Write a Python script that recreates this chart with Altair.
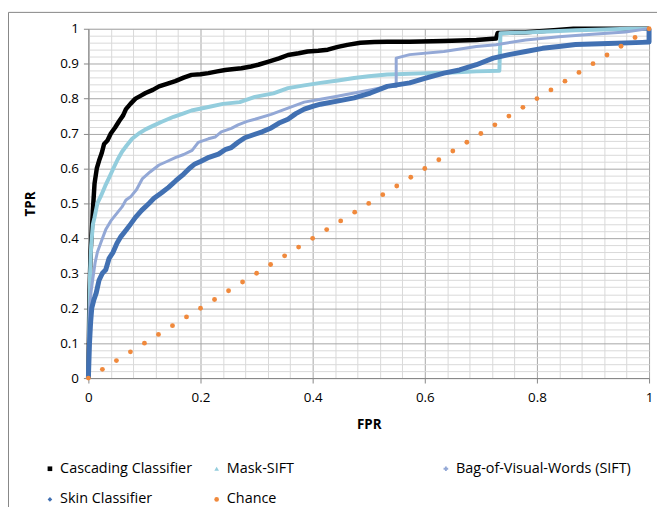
import altair as alt
import pandas as pd

series_names = ["Cascading Classifier", "Mask-SIFT", "Bag-of-Visual-Words (SIFT)", "Skin Classifier", "Chance"]
series_colors = ["#000000", "#93CDDD", "#93A8D6", "#4170B2", "#F0893C"]
series_shapes = ["square", "triangle-up", "cross", "diamond", "circle"]
line_widths = [4.5, 4, 3, 5]

casc_fpr = [0, 0.001, 0.002, 0.004, 0.006, 0.008, 0.011, 0.015, 0.019, 0.024, 0.028, 0.034, 0.04, 0.048, 0.055,
            0.062, 0.067, 0.075, 0.084, 0.093, 0.102, 0.115, 0.126, 0.14, 0.155, 0.17, 0.184, 0.2, 0.214, 0.23,
            0.244, 0.26, 0.273, 0.29, 0.303, 0.32, 0.34, 0.356, 0.375, 0.391, 0.41, 0.427, 0.445, 0.462, 0.485,
            0.51, 0.533, 0.573, 0.634, 0.692, 0.727, 0.73, 0.78, 0.83, 0.865, 1.0]
casc_tpr = [0, 0.12, 0.25, 0.36, 0.42, 0.48, 0.557, 0.6, 0.622, 0.645, 0.67, 0.68, 0.70, 0.718, 0.736,
            0.752, 0.77, 0.785, 0.80, 0.808, 0.816, 0.825, 0.835, 0.842, 0.85, 0.86, 0.868, 0.87, 0.873, 0.878,
            0.882, 0.885, 0.887, 0.892, 0.897, 0.905, 0.915, 0.925, 0.93, 0.935, 0.937, 0.94, 0.948, 0.954, 0.96,
            0.962, 0.963, 0.963, 0.965, 0.968, 0.972, 0.988, 0.99, 0.996, 1.0, 1.0]

mask_fpr = [0, 0.001, 0.002, 0.003, 0.005, 0.008, 0.011, 0.016, 0.022, 0.03, 0.036, 0.046, 0.052, 0.06, 0.068,
            0.078, 0.09, 0.102, 0.115, 0.13, 0.152, 0.17, 0.184, 0.214, 0.24, 0.27, 0.297, 0.33, 0.356, 0.385,
            0.414, 0.445, 0.474, 0.5, 0.533, 0.55, 0.604, 0.65, 0.692, 0.733, 0.735, 0.78, 0.83, 0.869, 0.92,
            0.963, 1.0]
mask_tpr = [0, 0.08, 0.2, 0.3, 0.38, 0.44, 0.46, 0.5, 0.52, 0.55, 0.57, 0.605, 0.625, 0.648, 0.665,
            0.685, 0.7, 0.712, 0.722, 0.733, 0.748, 0.758, 0.766, 0.776, 0.785, 0.79, 0.805, 0.815, 0.83, 0.838,
            0.845, 0.852, 0.859, 0.864, 0.869, 0.87, 0.873, 0.875, 0.878, 0.88, 0.987, 0.989, 0.993, 0.996, 0.998,
            1.0, 1.0]

bovw_fpr = [0, 0.001, 0.002, 0.005, 0.008, 0.012, 0.016, 0.024, 0.031, 0.04, 0.05, 0.06, 0.067, 0.076, 0.086,
            0.096, 0.11, 0.126, 0.14, 0.155, 0.17, 0.185, 0.196, 0.214, 0.226, 0.237, 0.255, 0.267, 0.283, 0.297,
            0.326, 0.356, 0.385, 0.414, 0.444, 0.474, 0.503, 0.533, 0.549, 0.549, 0.573, 0.634, 0.692, 0.727,
            0.78, 0.839, 0.899, 0.958, 0.993, 1.0]
bovw_tpr = [0, 0.1, 0.2, 0.25, 0.285, 0.33, 0.36, 0.395, 0.425, 0.45, 0.47, 0.49, 0.51, 0.52, 0.54,
            0.57, 0.59, 0.61, 0.62, 0.631, 0.64, 0.652, 0.675, 0.685, 0.69, 0.705, 0.715, 0.725, 0.735, 0.741,
            0.755, 0.773, 0.79, 0.798, 0.807, 0.816, 0.825, 0.835, 0.835, 0.916, 0.926, 0.935, 0.949, 0.954,
            0.968, 0.977, 0.984, 0.991, 0.999, 1.0]

skin_fpr = [0, 0.001, 0.002, 0.004, 0.006, 0.01, 0.014, 0.019, 0.025, 0.031, 0.037, 0.044, 0.051, 0.058, 0.067,
            0.075, 0.084, 0.095, 0.108, 0.117, 0.13, 0.143, 0.156, 0.17, 0.18, 0.19, 0.2, 0.215, 0.232, 0.245,
            0.255, 0.267, 0.279, 0.297, 0.31, 0.326, 0.34, 0.356, 0.37, 0.385, 0.4, 0.414, 0.444, 0.474, 0.503,
            0.533, 0.573, 0.6, 0.634, 0.662, 0.692, 0.722, 0.75, 0.78, 0.81, 0.839, 0.869, 0.927, 0.988, 1.0, 1.0]
skin_tpr = [0, 0.05, 0.1, 0.16, 0.2, 0.225, 0.244, 0.28, 0.3, 0.31, 0.343, 0.36, 0.386, 0.405, 0.423,
            0.44, 0.46, 0.48, 0.5, 0.515, 0.53, 0.546, 0.565, 0.584, 0.6, 0.613, 0.62, 0.632, 0.641, 0.655,
            0.66, 0.675, 0.688, 0.698, 0.705, 0.716, 0.73, 0.741, 0.757, 0.77, 0.778, 0.784, 0.793, 0.802, 0.816,
            0.835, 0.845, 0.858, 0.873, 0.882, 0.897, 0.916, 0.926, 0.935, 0.944, 0.949, 0.955, 0.958, 0.961,
            0.962, 1.0]

chance_fpr = [0, 0.025, 0.05, 0.075, 0.1, 0.125, 0.15, 0.175, 0.2, 0.225, 0.25, 0.275, 0.3, 0.325, 0.35,
              0.375, 0.4, 0.425, 0.45, 0.475, 0.5, 0.525, 0.55, 0.575, 0.6, 0.625, 0.65, 0.675, 0.7, 0.725,
              0.75, 0.775, 0.8, 0.825, 0.85, 0.875, 0.9, 0.925, 0.95, 0.975, 1.0]
chance_tpr = [0, 0.025, 0.05, 0.075, 0.1, 0.125, 0.15, 0.175, 0.2, 0.225, 0.25, 0.275, 0.3, 0.325, 0.35,
              0.375, 0.4, 0.425, 0.45, 0.475, 0.5, 0.525, 0.55, 0.575, 0.6, 0.625, 0.65, 0.675, 0.7, 0.725,
              0.75, 0.775, 0.8, 0.825, 0.85, 0.875, 0.9, 0.925, 0.95, 0.975, 1.0]

x_ticks = [round(i * 0.04, 2) for i in range(26)]
y_ticks = [round(i * 0.02, 2) for i in range(51)]

FONT = "Open Sans"
FS = 13.5
LFS = 14.5
MAJOR = "#a6a6a6"
MINOR = "#d9d9d9"

x_major = "abs(datum.value*5 - round(datum.value*5)) < 0.001"
y_major = "abs(datum.value*10 - round(datum.value*10)) < 0.001"

x_axis = alt.Axis(
    values=x_ticks, title="FPR", grid=True,
    gridColor={"condition": {"test": x_major, "value": MAJOR}, "value": MINOR},
    tickOpacity={"condition": {"test": x_major, "value": 1}, "value": 0},
    labelExpr=f"({x_major}) ? format(datum.value, '.1~f') : ''",
    tickSize=5, tickColor="#868686", domainColor="#868686",
    labelPadding=8, labelFont=FONT, labelFontSize=FS, labelColor="#000000",
    titleFont=FONT, titleFontSize=FS, titleFontWeight="bold", titleColor="#000000", titlePadding=13,
    labelOverlap=False, labelFlush=False,
)
y_axis = alt.Axis(
    values=y_ticks, title="TPR", grid=True,
    gridColor={"condition": {"test": y_major, "value": MAJOR}, "value": MINOR},
    tickOpacity={"condition": {"test": y_major, "value": 1}, "value": 0},
    labelExpr=f"({y_major}) ? format(datum.value, '.1~f') : ''",
    tickSize=5, tickColor="#868686", domainColor="#868686",
    labelPadding=5, labelFont=FONT, labelFontSize=FS, labelColor="#000000",
    titleFont=FONT, titleFontSize=FS, titleFontWeight="bold", titleColor="#000000", titlePadding=22,
    labelOverlap=False, labelFlush=False,
)

xs = alt.Scale(domain=[0, 1], nice=False, zero=False)
ys = alt.Scale(domain=[0, 1], nice=False, zero=False)

curves = [(casc_fpr, casc_tpr), (mask_fpr, mask_tpr), (bovw_fpr, bovw_tpr), (skin_fpr, skin_tpr)]

layers = []
for k, (f, t) in enumerate(curves):
    df = pd.DataFrame({"fpr": f, "tpr": t, "i": list(range(len(f))), "series": series_names[k]})
    layers.append(
        alt.Chart(df).mark_line(color=series_colors[k], strokeWidth=line_widths[k], strokeJoin="round")
        .encode(
            x=alt.X("fpr:Q", scale=xs, axis=x_axis),
            y=alt.Y("tpr:Q", scale=ys, axis=y_axis),
            order=alt.Order("i:Q"),
        )
    )

# widen the middle legend column: spaces kept by a trailing zero-width character
pad = " " * 34 + "\u200b"
legend = alt.Legend(
    title=None, orient="none", legendX=-46, legendY=436, columns=3, direction="horizontal",
    labelFont=FONT, labelFontSize=LFS, labelColor="#000000", symbolSize=22, symbolStrokeWidth=0,
    labelOffset=3, columnPadding=17, rowPadding=16, gridAlign="each", labelLimit=500,
    labelExpr=f"datum.label == 'Mask-SIFT' ? 'Mask-SIFT{pad}' : datum.label",
)
chance_df = pd.DataFrame({"fpr": chance_fpr, "tpr": chance_tpr, "series": "Chance"})
points = alt.Chart(chance_df).mark_point(filled=True, size=24, opacity=1).encode(
    x=alt.X("fpr:Q", scale=xs, axis=x_axis),
    y=alt.Y("tpr:Q", scale=ys, axis=y_axis),
    color=alt.Color("series:N", scale=alt.Scale(domain=series_names, range=series_colors), legend=legend),
    shape=alt.Shape("series:N", scale=alt.Scale(domain=series_names, range=series_shapes), legend=legend),
)
layers.append(points)

frame_df = pd.DataFrame({"a": [0]})
frame_left = alt.Chart(frame_df).mark_rule(color="#868686", strokeWidth=1).encode(
    x=alt.value(-80.5), y=alt.value(-16.5), y2=alt.value(520))
frame_top = alt.Chart(frame_df).mark_rule(color="#868686", strokeWidth=1).encode(
    x=alt.value(-80.5), x2=alt.value(700), y=alt.value(-16.5))
layers += [frame_left, frame_top]

chart = alt.layer(*layers).properties(
    width=565, height=352,
    padding={"left": 81, "top": 19, "right": 8, "bottom": 128},
    autosize=alt.AutoSizeParams(type="none"),
).configure_view(stroke=None).configure(background="white")

chart.save("out.html", embed_options={"renderer": "svg", "actions": False})
